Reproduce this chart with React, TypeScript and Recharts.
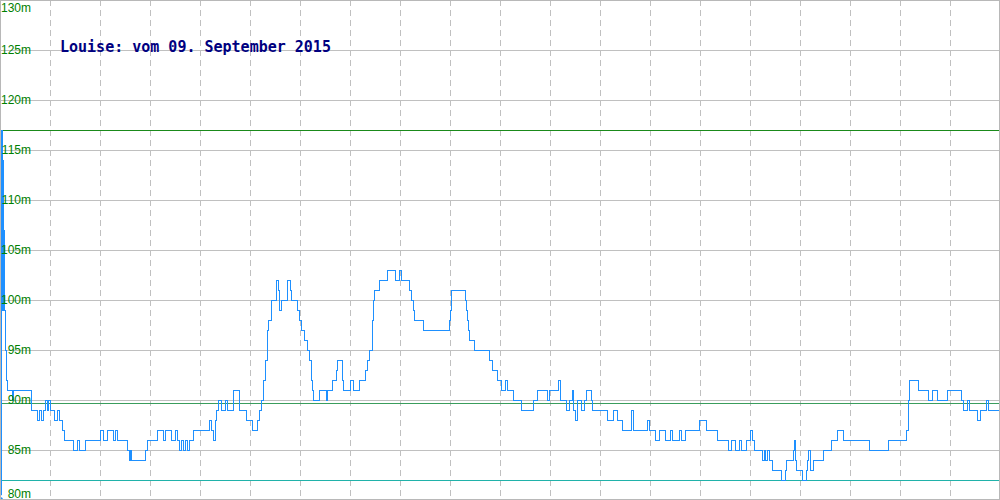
import { CartesianGrid, Line, LineChart, ReferenceLine, XAxis, YAxis } from 'recharts'

const TITLE = 'Louise: vom 09. September 2015'

// time index of each change, and the altitude (m) from that point on
const times = [
  0, 1, 2, 3, 3.5, 4, 5, 6, 7, 12, 13, 31, 37, 39, 41, 43, 45, 47, 48, 50, 54, 57, 59, 62, 64, 73,
  77, 79, 85, 100, 103, 107, 113, 115, 117, 127, 129, 130, 131, 145, 147, 157, 163, 165, 171, 175,
  177, 179, 181, 183, 185, 187, 189, 193, 209, 211, 213, 215, 216, 218, 221, 225, 227, 233, 239,
  246, 252, 257, 259, 261, 263, 265, 267, 268, 271, 276, 278, 279, 281, 287, 290, 291, 297, 299,
  301, 304, 307, 309, 311, 312, 313, 319, 326, 327, 332, 336, 337, 342, 343, 350, 353, 359, 365,
  367, 369, 372, 373, 374, 379, 387, 395, 399, 401, 409, 411, 413, 414, 423, 449, 450, 451, 465,
  466, 467, 468, 469, 474, 489, 492, 497, 501, 505, 507, 513, 521, 533, 537, 547, 549, 558, 560,
  566, 569, 572, 573, 575, 577, 581, 584, 586, 591, 592, 607, 613, 617, 622, 631, 633, 647, 649,
  655, 659, 665, 670, 672, 679, 681, 685, 699, 706, 717, 728, 731, 735, 739, 741, 746, 750, 752,
  754, 762, 764, 765, 767, 769, 772, 781, 785, 786, 793, 794, 795, 796, 802, 806, 807, 808, 810,
  813, 823, 831, 837, 843, 869, 888, 906, 908, 909, 918, 928, 932, 937, 947, 961, 963, 967, 969,
  977, 980, 986, 988, 990, 1000,
]
const heights = [
  80, 117, 99, 114, 107, 99, 95, 92, 91, 90, 91, 89, 88, 89, 88, 89, 90, 89, 90, 89, 88, 89, 88,
  87, 86, 85, 86, 85, 86, 87, 86, 87, 86, 87, 86, 85, 84, 85, 84, 85, 86, 87, 86, 87, 86, 87, 86,
  85, 86, 85, 86, 85, 86, 87, 88, 87, 86, 88, 89, 90, 89, 90, 89, 91, 89, 88, 87, 88, 89, 90, 92,
  94, 97, 98, 100, 102, 101, 99, 100, 102, 101, 100, 99, 98, 97, 96, 95, 94, 92, 91, 90, 91, 90,
  91, 92, 93, 94, 92, 91, 92, 91, 92, 93, 94, 95, 98, 100, 101, 102, 103, 102, 103, 102, 101, 100,
  99, 98, 97, 98, 99, 101, 100, 99, 98, 97, 96, 95, 94, 93, 92, 91, 92, 91, 90, 89, 90, 91, 90,
  91, 92, 90, 89, 90, 91, 89, 88, 90, 89, 90, 91, 90, 89, 88, 89, 88, 87, 89, 87, 88, 87, 86, 87,
  86, 87, 86, 87, 86, 87, 88, 87, 86, 85, 86, 85, 86, 85, 86, 87, 86, 85, 84, 85, 84, 85, 84, 83,
  82, 83, 84, 85, 86, 84, 83, 82, 83, 84, 85, 83, 84, 85, 86, 87, 86, 85, 86, 87, 90, 92, 91, 90,
  91, 90, 91, 90, 89, 90, 89, 88, 89, 90, 89, 89, 89,
]

const heightTicks = [80, 85, 90, 95, 100, 105, 110, 115, 120, 125, 130]
const timeTicks = [0, 50, 100, 150, 200, 250, 300, 350, 400, 450, 500, 550, 600, 650, 700, 750, 800, 850, 900, 950, 1000]

const MAX_HEIGHT = 117
const MIN_HEIGHT = 82
const AVG_HEIGHT = 89.7

const rows = times.map((t, i) => ({ t, h: heights[i] }))

function HeightTick(props: { y?: number; payload?: { value: number } }) {
  const y = Number(props.y ?? 0)
  const base = Math.min(498, Math.max(12, y + 4))
  return (
    <text
      x={31}
      y={base}
      textAnchor="end"
      fill="#008000"
      fontSize={12}
      fontFamily="'Liberation Sans', Arial, sans-serif"
    >
      {`${props.payload?.value}m`}
    </text>
  )
}

export default function App() {
  return (
    <div style={{ position: 'absolute', left: 0, top: 0, width: 1000, height: 500, background: '#fff' }}>
      <LineChart width={1000} height={500} data={rows} margin={{ top: 0, right: 0, bottom: 0, left: 0 }}>
        <XAxis dataKey="t" type="number" domain={[0, 1000]} ticks={timeTicks} hide />
        <YAxis
          type="number"
          domain={[80, 130]}
          ticks={heightTicks}
          interval={0}
          width={40}
          mirror
          axisLine={false}
          tickLine={false}
          tick={(p: { y?: number; payload?: { value: number } }) => <HeightTick {...p} />}
        />
        <CartesianGrid vertical={false} stroke="#c0c0c0" shapeRendering="crispEdges" />
        <CartesianGrid horizontal={false} stroke="#c0c0c0" strokeDasharray="6 4" shapeRendering="crispEdges" />
        <ReferenceLine y={MAX_HEIGHT} stroke="#1a8a1a" shapeRendering="crispEdges" />
        <ReferenceLine y={MIN_HEIGHT} stroke="#20b2aa" shapeRendering="crispEdges" />
        <ReferenceLine y={AVG_HEIGHT} stroke="#3a9d5d" shapeRendering="crispEdges" />
        <Line
          dataKey="h"
          type="stepAfter"
          stroke="#1e90ff"
          strokeWidth={1}
          dot={false}
          isAnimationActive={false}
          shapeRendering="crispEdges"
        />
      </LineChart>
      <div
        style={{
          position: 'absolute',
          left: 60,
          top: 38,
          fontFamily: "'DejaVu Sans Mono', monospace",
          fontWeight: 'bold',
          fontSize: 15,
          color: '#000080',
          whiteSpace: 'pre',
        }}
      >
        {TITLE}
      </div>
      <div
        style={{
          position: 'absolute',
          inset: 0,
          border: '1px solid #b8b8b8',
          boxSizing: 'border-box',
          pointerEvents: 'none',
        }}
      />
    </div>
  )
}
